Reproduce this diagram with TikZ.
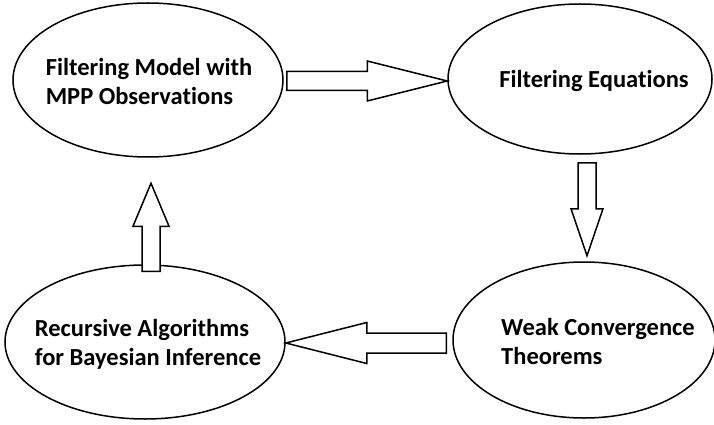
\documentclass[tikz,border=0pt]{standalone}
\usepackage{fontspec}
\setmainfont[Ligatures=NoCommon]{Carlito}
\usetikzlibrary{positioning,calc,shapes.geometric}

% hollow block arrow: start, tip, head length, shaft half width, head half width
\newcommand{\blockarrow}[5]{%
  \coordinate (hb) at ($(#2)!#3!(#1)$);
  \draw[barrow] ($(#1)!#4!90:(#2)$) -- ($(hb)!#4!-90:(#1)$) -- ($(hb)!#5!-90:(#1)$)
    -- (#2) -- ($(hb)!#5!90:(#1)$) -- ($(hb)!#4!90:(#1)$) -- ($(#1)!#4!-90:(#2)$) -- cycle;
}

\begin{document}
\begin{tikzpicture}[
    x=1pt, y=1pt,
    oval/.style={draw, ellipse, line width=1.5pt, inner sep=0pt},
    lbl/.style={font=\fontsize{24.5}{29}\selectfont\bfseries, align=left, inner sep=0pt},
    barrow/.style={draw, line width=1.5pt, line join=miter, fill=white},
]
\useasboundingbox (0,0) rectangle (714,-425);
\node[oval, minimum width=270pt, minimum height=154pt] (mpp) at (148,-80) {};
\node[oval, minimum width=264pt, minimum height=150pt] (eqs) at (580,-79) {};
\node[oval, minimum width=262pt, minimum height=156pt] (weak) at (584,-340) {};
\node[oval, minimum width=280pt, minimum height=154pt] (rec) at (145,-342) {};
\node[lbl] (mpptxt) at ($(mpp)+(1,-1)$) {Filtering Model with\\MPP Observations};
\node[lbl] (eqstxt) at ($(eqs)+(14,-2)$) {Filtering Equations};
\node[lbl] (weaktxt) at ($(weak)+(14,-1)$) {Weak Convergence\\Theorems};
\node[lbl] (rectxt) at ($(rec)+(3,-2)$) {Recursive Algorithms\\for Bayesian Inference};
% arrow ends
\coordinate (r0) at ($(mpp.east)+(3,-1)$);
\coordinate (r1) at (r0 -| eqs.west);
\coordinate (d0) at ($(eqs.south)+(7,-8)$);
\coordinate (d1) at ($(d0)+(0,-93)$);
\coordinate (l0) at ($(weak.west)+(-6,-3)$);
\coordinate (l1) at (l0 -| rec.east);
\coordinate (u0) at ($(rec.north)+(6,-7)$);
\coordinate (u1) at ($(u0)+(0,88)$);
\blockarrow{r0}{r1}{80pt}{9.5pt}{20pt}
\blockarrow{d0}{d1}{47pt}{9pt}{16pt}
\blockarrow{l0}{l1}{81pt}{10pt}{20.5pt}
\blockarrow{u0}{u1}{43pt}{9pt}{18pt}
\end{tikzpicture}
\end{document}
